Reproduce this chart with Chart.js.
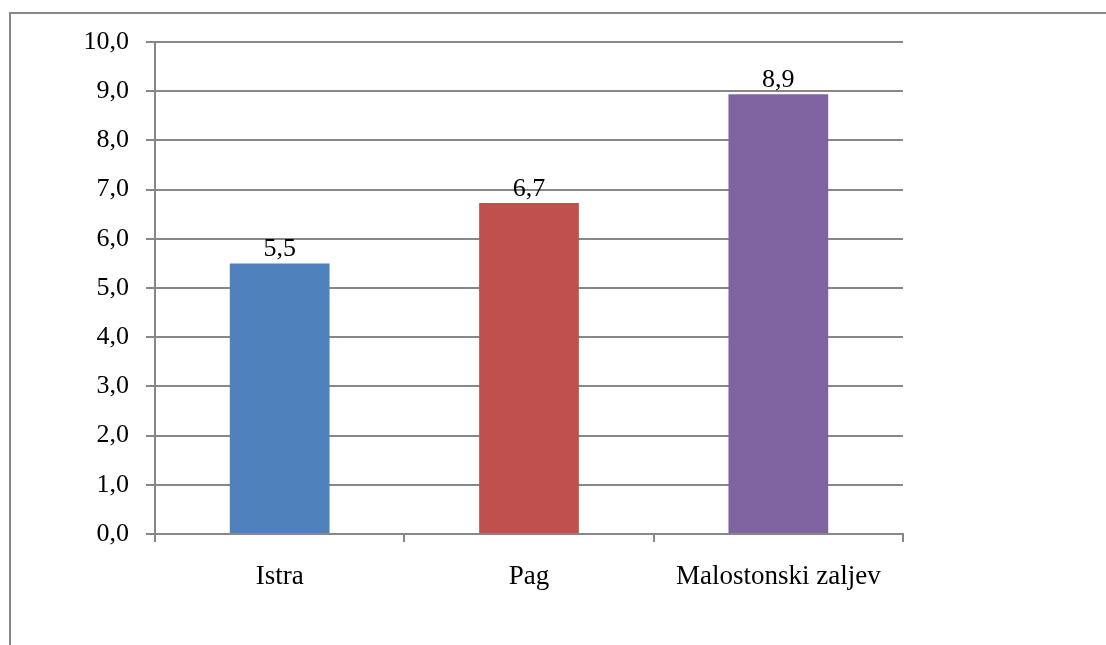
<!DOCTYPE html>
<html>
<head>
<meta charset="utf-8">
<script src="https://cdn.jsdelivr.net/npm/chart.js@4/dist/chart.umd.min.js"></script>
<style>
  html, body { margin: 0; padding: 0; background: #fff; }
  #wrap { position: relative; width: 1106px; height: 645px; overflow: hidden; }
  #frame { position: absolute; left: 9px; top: 12px; width: 1200px; height: 700px;
           border-left: 2px solid #878787; border-top: 2px solid #878787; }
  canvas { position: absolute; left: 0; top: 0; }
</style>
</head>
<body>
<div id="wrap">
  <div id="frame"></div>
  <canvas id="chart" width="1106" height="645"></canvas>
</div>
<script>
const categories = ['Istra', 'Pag', 'Malostonski zaljev'];
const values = [5.5, 6.73, 8.94];
const barColors = ['#4F81BD', '#C0504D', '#8064A2'];
const yTicks = [0, 1, 2, 3, 4, 5, 6, 7, 8, 9, 10];

const serif = '"Liberation Serif", "Times New Roman", serif';
const fmt = v => v.toFixed(1).replace('.', ',');

// draws the value above each bar
const valueLabels = {
    id: 'valueLabels',
    afterDatasetsDraw(chart) {
        const ctx = chart.ctx;
        const meta = chart.getDatasetMeta(0);
        ctx.save();
        ctx.font = '26px ' + serif;
        ctx.fillStyle = '#000';
        ctx.textAlign = 'center';
        ctx.textBaseline = 'alphabetic';
        meta.data.forEach((bar, i) => {
            ctx.fillText(fmt(values[i]), bar.x, bar.y - 7);
        });
        ctx.restore();
    }
};

const ctx = document.getElementById('chart').getContext('2d');
new Chart(ctx, {
    type: 'bar',
    data: {
        labels: categories,
        datasets: [{
            data: values,
            backgroundColor: barColors,
            borderWidth: 0,
            barPercentage: 0.4,
            categoryPercentage: 1.0
        }]
    },
    options: {
        responsive: false,
        animation: false,
        layout: { padding: { left: 0, right: 203, top: 42, bottom: 0 } },
        plugins: { legend: { display: false }, tooltip: { enabled: false } },
        scales: {
            x: {
                afterFit: s => { s.height = 111; },
                grid: { display: true, drawOnChartArea: false, drawTicks: true, tickLength: 8, color: '#878787', lineWidth: 2, offset: true },
                border: { display: true, color: '#878787', width: 2 },
                ticks: { color: '#000', font: { family: serif, size: 27 }, padding: 19, maxRotation: 0 }
            },
            y: {
                min: 0,
                max: 10,
                afterFit: s => { s.width = 155; },
                afterBuildTicks: s => { s.ticks = yTicks.map(v => ({ value: v })); },
                grid: { color: '#878787', lineWidth: 2, tickLength: 9 },
                border: { display: true, color: '#878787', width: 2 },
                ticks: { color: '#000', font: { family: serif, size: 26 }, padding: 17, callback: v => fmt(v) }
            }
        }
    },
    plugins: [valueLabels]
});
</script>
</body>
</html>
